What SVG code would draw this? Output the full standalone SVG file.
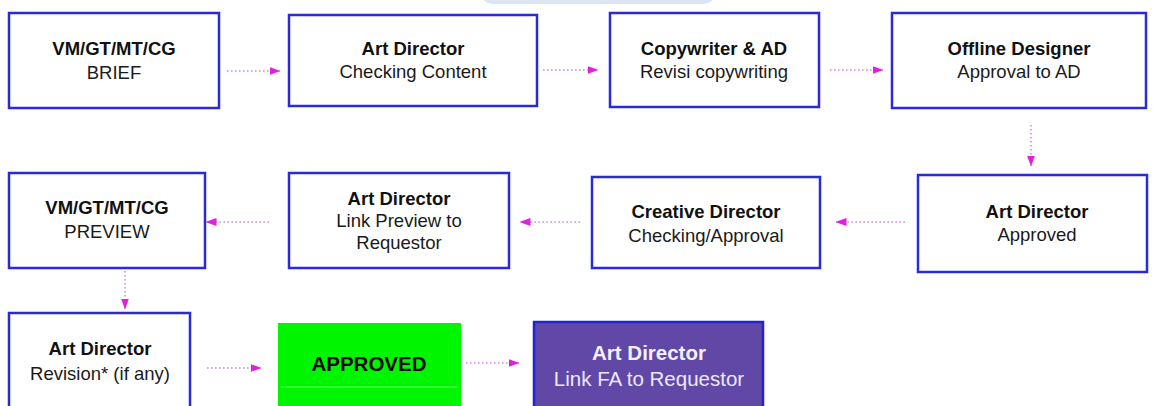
<svg xmlns="http://www.w3.org/2000/svg" width="1153" height="406" viewBox="0 0 1153 406">
  <defs>
    <marker id="arrowhead" viewBox="0 0 11 8" refX="10.5" refY="4" markerWidth="11" markerHeight="8" markerUnits="userSpaceOnUse" orient="auto">
      <path d="M0,0 L11,4 L0,8 Z" fill="#e21fe0"/>
    </marker>
    <style>
      .box { fill: #ffffff; stroke: #2a2ad8; stroke-width: 2.5; }
      .title { font-family: "Liberation Sans", Arial, sans-serif; font-size: 18.5px; font-weight: bold; fill: #111111; text-anchor: middle; }
      .sub { font-family: "Liberation Sans", Arial, sans-serif; font-size: 18.5px; fill: #1a1a1a; text-anchor: middle; }
      .link { fill: none; stroke: #d88ad8; stroke-width: 1.6; stroke-dasharray: 1.6 2.4; marker-end: url(#arrowhead); }
    </style>
  </defs>

  <rect width="1153" height="406" fill="#ffffff"/>
  <!-- pale tab peeking in at the top edge -->
  <rect x="480" y="-22" width="236" height="26" rx="13" fill="#dce6f2"/>

  <g id="connectors">
    <line class="link" x1="227" y1="71" x2="280" y2="71"/>
    <line class="link" x1="543" y1="70" x2="598" y2="70"/>
    <line class="link" x1="830" y1="70" x2="883" y2="70"/>
    <line class="link" x1="1031" y1="125" x2="1031" y2="166"/>
    <line class="link" x1="905" y1="222" x2="836" y2="222"/>
    <line class="link" x1="580" y1="222" x2="520" y2="222"/>
    <line class="link" x1="269" y1="222" x2="206" y2="222"/>
    <line class="link" x1="125" y1="271" x2="125" y2="309"/>
    <line class="link" x1="207" y1="368" x2="261" y2="368"/>
    <line class="link" x1="466" y1="363" x2="519" y2="363"/>
  </g>

  <g id="brief">
    <rect class="box" x="9" y="13" width="210" height="95"/>
    <text class="title" x="114" y="55">VM/GT/MT/CG</text>
    <text class="sub" x="114" y="79">BRIEF</text>
  </g>

  <g id="ad-checking">
    <rect class="box" x="289" y="15" width="248" height="91"/>
    <text class="title" x="413" y="55">Art Director</text>
    <text class="sub" x="413" y="78">Checking Content</text>
  </g>

  <g id="copywriter">
    <rect class="box" x="610" y="13" width="209" height="94"/>
    <text class="title" x="714" y="55">Copywriter &amp; AD</text>
    <text class="sub" x="714" y="78">Revisi copywriting</text>
  </g>

  <g id="offline-designer">
    <rect class="box" x="892" y="13" width="254" height="95"/>
    <text class="title" x="1019" y="55">Offline Designer</text>
    <text class="sub" x="1019" y="78">Approval to AD</text>
  </g>

  <g id="ad-approved">
    <rect class="box" x="918" y="175" width="229" height="97"/>
    <text class="title" x="1037" y="218">Art Director</text>
    <text class="sub" x="1037" y="241">Approved</text>
  </g>

  <g id="creative-director">
    <rect class="box" x="592" y="177" width="228" height="91"/>
    <text class="title" x="706" y="218">Creative Director</text>
    <text class="sub" x="706" y="242">Checking/Approval</text>
  </g>

  <g id="ad-link-preview">
    <rect class="box" x="289" y="173" width="220" height="95"/>
    <text class="title" x="399" y="205">Art Director</text>
    <text class="sub" x="399" y="227">Link Preview to</text>
    <text class="sub" x="399" y="249">Requestor</text>
  </g>

  <g id="preview">
    <rect class="box" x="9" y="173" width="196" height="95"/>
    <text class="title" x="107" y="214">VM/GT/MT/CG</text>
    <text class="sub" x="107" y="238">PREVIEW</text>
  </g>

  <g id="ad-revision">
    <rect class="box" x="9" y="313" width="181" height="100"/>
    <text class="title" x="100" y="355">Art Director</text>
    <text class="sub" x="100" y="380">Revision* (if any)</text>
  </g>

  <g id="approved">
    <rect x="278" y="323" width="183" height="90" fill="#00f500"/>
    <line x1="281" y1="387" x2="458" y2="387" stroke="#6cff6c" stroke-width="1"/>
    <text x="369" y="371" font-family="'Liberation Sans', Arial, sans-serif" font-size="20.5" font-weight="bold" fill="#0a0a0a" text-anchor="middle">APPROVED</text>
  </g>

  <g id="ad-link-fa">
    <rect x="534" y="322" width="229" height="90" fill="#6148a6" stroke="#2323d6" stroke-width="2.5"/>
    <text x="649" y="360" font-family="'Liberation Sans', Arial, sans-serif" font-size="20.5" font-weight="bold" fill="#f4f0ff" text-anchor="middle">Art Director</text>
    <text x="649" y="386" font-family="'Liberation Sans', Arial, sans-serif" font-size="20.5" fill="#eee8ff" text-anchor="middle">Link FA to Requestor</text>
  </g>
</svg>
